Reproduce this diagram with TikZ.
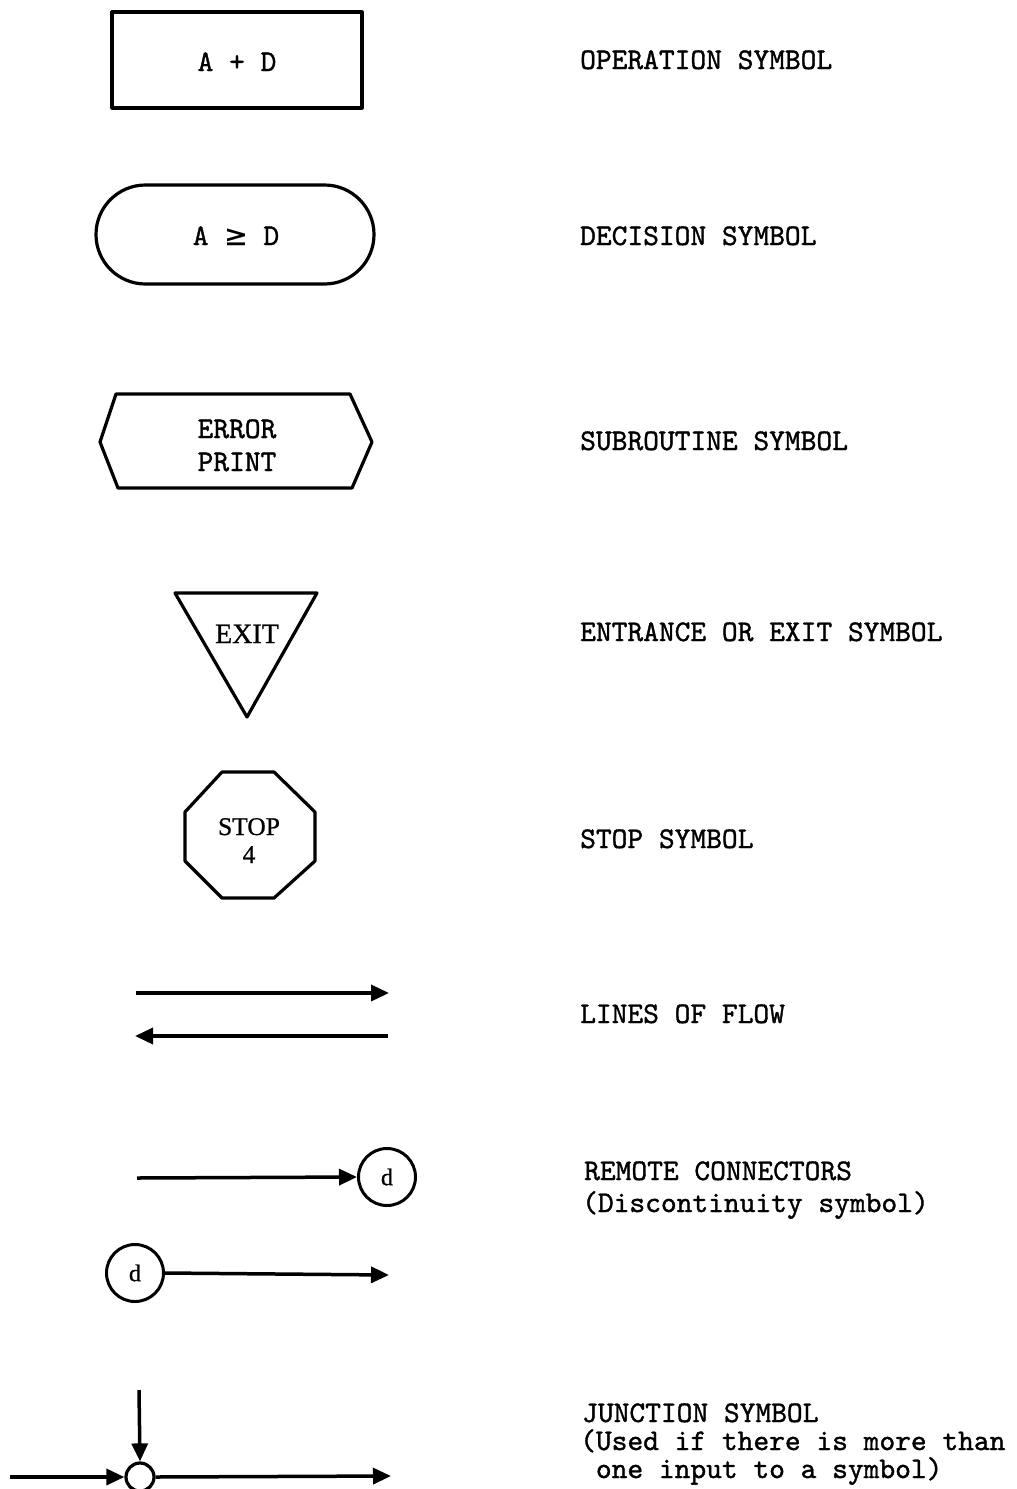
\documentclass[tikz,border=0pt]{standalone}
\usepackage{fontspec}
\usetikzlibrary{arrows.meta,shapes.geometric}
\newfontfamily\typer{lmmono10-regular.otf}[FakeBold=1.2]
\newfontfamily\romanf{Liberation Serif}[FakeBold=0.8]
\newfontfamily\symf{DejaVu Sans}[FakeBold=0.6]

\tikzset{
  shapeline/.style={draw, line width=3.2pt, line join=round},
  flow/.style={line width=3.5pt, -{Triangle[length=18pt,width=16pt]}},
  label/.style={anchor=base west, inner sep=0pt, font=\typer\fontsize{30}{34}\selectfont},
  intext/.style={inner sep=0pt, font=\typer\fontsize{30}{34}\selectfont},
  romtext/.style={inner sep=0pt, font=\romanf\fontsize{26}{30}\selectfont},
  connector/.style={circle, draw, line width=3pt, minimum size=57pt, inner sep=0pt,
                    font=\romanf\fontsize{24}{26}\selectfont},
  junction/.style={circle, draw, line width=3.2pt, minimum size=28pt, inner sep=0pt},
}

\begin{document}
\begin{tikzpicture}[x=1pt, y=-1pt]
\useasboundingbox[fill=white] (0,0) rectangle (1017,1489);

% operation symbol
\draw[shapeline] (112,12) rectangle (362,108);
\node[intext, anchor=base] (opt) at (237,71) {A + D};

% decision symbol
\draw[shapeline, rounded corners=49.5pt] (96,185) rectangle (374,284);
\node[intext, anchor=base] (dect) at (236,245) {A {\symf\fontsize{28}{30}\selectfont ≥} D};

% subroutine symbol
\draw[shapeline] (100,442) -- (116,394) -- (350,394) -- (372,442)
                 -- (352,488) -- (118,488) -- cycle;
\node[intext, anchor=base] (subA) at (237,438) {ERROR};
\node[intext, anchor=base] (subB) at (237,471) {PRINT};

% entrance / exit symbol
\draw[shapeline] (175,593) -- (317,593) -- (247,717) -- cycle;
\node[romtext, font=\romanf\fontsize{28}{30}\selectfont, anchor=base] (exitt) at (247,643) {EXIT};

% stop symbol
\draw[shapeline] (222,772) -- (274,772) -- (315,812) -- (315,861)
                 -- (274,898) -- (222,898) -- (185,861) -- (185,812) -- cycle;
\node[romtext, font=\romanf\fontsize{25.5}{30}\selectfont, anchor=base] (stopa) at (249,835) {STOP};
\node[romtext, font=\romanf\fontsize{25.5}{30}\selectfont, anchor=base] (stopb) at (249,863) {4};

% lines of flow
\coordinate (fa1) at (136,993);
\coordinate (fa2) at (389,993);
\coordinate (fb1) at (388,1036);
\coordinate (fb2) at (135,1036);
\draw[flow] (fa1) -- (fa2);
\draw[flow] (fb1) -- (fb2);

% remote connectors
\node[connector] (rc1) at (387,1177) {d};
\coordinate (rcin) at (137,1178);
\draw[flow] (rcin) -- (rc1.west);
\node[connector] (rc2) at (135,1273) {d};
\coordinate (rcout) at (389,1275);
\draw[flow] (rc2.east) -- (rcout);

% junction symbol
\node[junction] (jn) at (140,1477) {};
\coordinate (jtop) at (139,1390);
\coordinate (jleft) at (10,1477);
\coordinate (jright) at (391,1476);
\draw[flow] (jtop) -- (jn.north);
\draw[flow] (jleft) -- (jn.west);
\draw[flow] (jn.east) -- (jright);

% descriptions
\node[label] (l1) at (580,69) {OPERATION SYMBOL};
\node[label] (l2) at (580,245) {DECISION SYMBOL};
\node[label] (l3) at (580,450) {SUBROUTINE SYMBOL};
\node[label] (l4) at (580,641) {ENTRANCE OR EXIT SYMBOL};
\node[label] (l5) at (580,848) {STOP SYMBOL};
\node[label] (l6) at (580,1023) {LINES OF FLOW};
\node[label] (l7) at (584,1180) {REMOTE CONNECTORS};
\node[label] (l8) at (582,1212) {(Discontinuity symbol)};
\node[label] (l9) at (582,1422) {JUNCTION SYMBOL};
\node[label] (l10) at (580,1450) {(Used if there is more than};
\node[label] (l11) at (580,1478) {\ one input to a symbol)};
\end{tikzpicture}
\end{document}
